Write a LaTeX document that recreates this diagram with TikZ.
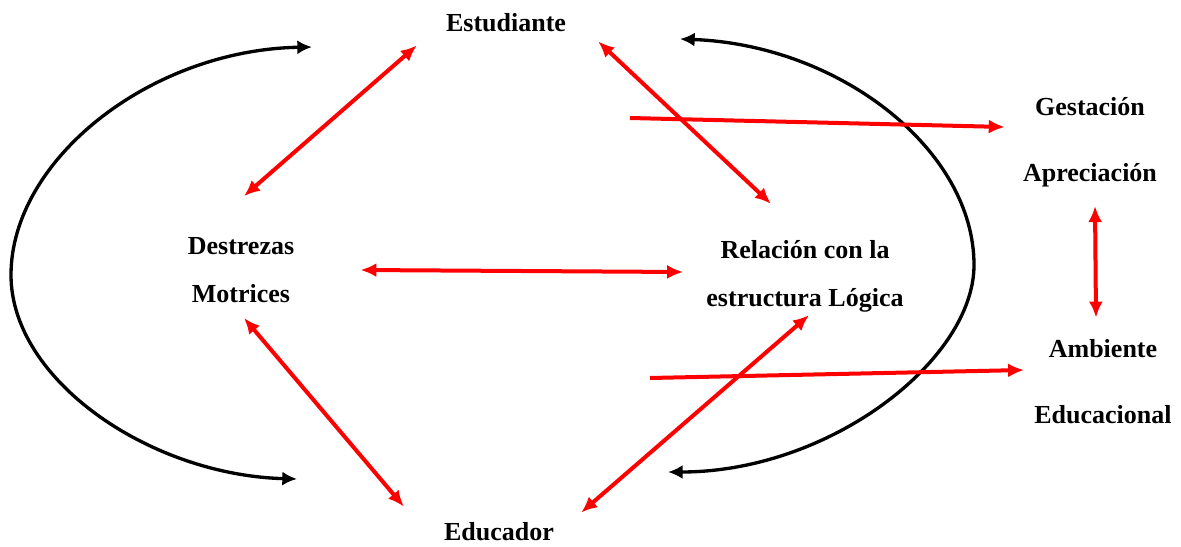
\documentclass[tikz,border=0pt]{standalone}
\usepackage{fontspec}
\setmainfont{Liberation Serif}
\usetikzlibrary{arrows.meta}

\tikzset{
  concept/.style={inner sep=0pt, align=center, font=\fontsize{19.5}{36}\selectfont\bfseries},
  wideconcept/.style={concept, font=\fontsize{19.5}{49.5}\selectfont\bfseries},
  redlink/.style={red, line width=3pt, >={Latex[length=12pt,width=10.5pt]}},
  cycleline/.style={black, line width=2.5pt, >={Latex[length=11pt,width=10.5pt]}}
}

\begin{document}
\begin{tikzpicture}[x=0.75pt, y=-0.75pt]
      \useasboundingbox (0,0) rectangle (1181,546);
      % concepts
      \node[concept] (est) at (506,23) {Estudiante};
      \node[concept] (destr) at (241,270) {Destrezas\\Motrices};
      \node[concept] (rel) at (805,276) {Relación con la\\estructura Lógica};
      \node[concept] (edu) at (499,532) {Educador};
      \node[wideconcept] (gest) at (1090,142) {Gestación\\Apreciación};
      \node[wideconcept] (amb) at (1103,382) {Ambiente\\Educacional};
      % free ends
      \coordinate (lt) at (312,47);
      \coordinate (lb) at (297,479);
      \coordinate (rt) at (680,39);
      \coordinate (rb) at (668,472);
      \coordinate (g0) at (630,118);
      \coordinate (a0) at (650,378);
      % big cycle
      \draw[cycleline,<->] (lt) .. controls (150,50) and (11,160) .. (11,275) .. controls (11,380) and (150,475) .. (lb);
      \draw[cycleline,<->] (rt) .. controls (840,45) and (974,150) .. (974,265) .. controls (974,360) and (830,472) .. (rb);
      % red links
      \draw[redlink,<->] ([shift={(-29,13)}]est.south west) -- ([shift={(3,-41)}]destr.north);
      \draw[redlink,<->] ([shift={(32,9)}]est.south east) -- ([shift={(-34,-36)}]rel.north);
      \draw[redlink,<->] ([shift={(66,0)}]destr.east) -- ([shift={(-23,-4)}]rel.west);
      \draw[redlink,<->] ([shift={(3,15)}]destr.south) -- ([shift={(-40,-16)}]edu.north west);
      \draw[redlink,<->] ([shift={(27,-10)}]edu.north east) -- ([shift={(4,3)}]rel.south);
      \draw[redlink,<->] ([shift={(5,19)}]gest.south) -- ([shift={(-7,-22)}]amb.north);
      % to the right
      \draw[redlink,->] (g0) -- ([shift={(-18,-15)}]gest.west);
      \draw[redlink,->] (a0) -- ([shift={(-10,-12)}]amb.west);
\end{tikzpicture}
\end{document}
